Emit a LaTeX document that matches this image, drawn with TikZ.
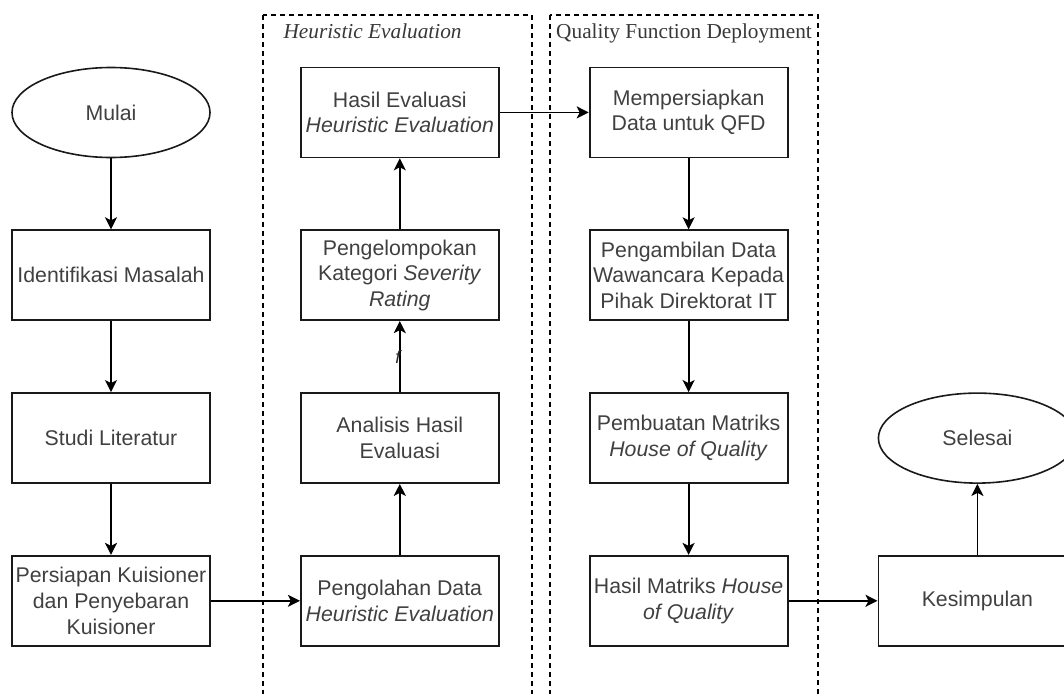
\documentclass[tikz,border=0pt]{standalone}
\usepackage{fontspec}
\setmainfont{Liberation Serif}
\newfontfamily\boxfont{Liberation Sans}
\usetikzlibrary{arrows.meta}
\usetikzlibrary{shapes.geometric}
\usetikzlibrary{positioning}

\begin{document}
\begin{tikzpicture}[x=1pt,y=1pt,
        node distance=71pt and 89pt,
        every node/.style={font=\boxfont\fontsize{21.3}{25.6}\selectfont,text=black!75,align=center},
        proses/.style={draw=black!90,line width=1.8pt,rectangle,minimum width=198pt,minimum height=90pt,inner sep=2pt},
        terminal/.style={draw=black!90,line width=1.6pt,ellipse,minimum width=198pt,minimum height=90pt,inner sep=0pt},
        alur/.style={draw,line width=1.8pt,-{Stealth[length=12pt,width=12pt,inset=3pt]}},
        kelompok/.style={draw,line width=1.3pt,dash pattern=on 5pt off 4pt},
        judul/.style={font=\rmfamily\fontsize{21.3}{25.6}\selectfont,text=black!78},
        fmark/.style={font=\boxfont\fontsize{18}{20}\selectfont\itshape,text=black!85,inner sep=0pt}]

    \useasboundingbox (0,0) rectangle (1064,-693);

    % dashed group frames
    \draw[kelompok] (263,-15) rectangle (532,-720);
    \draw[kelompok] (550,-15) rectangle (818,-720);
    \node[judul,anchor=base west] (judulhe) at (280,-39) {\textit{Heuristic Evaluation}};
    \node[judul,anchor=base] (judulqfd) at (684,-38) {Quality Function Deployment};

    % first column
    \node[terminal] (mulai) at (111,-112.5) {Mulai};
    \node[proses,below=of mulai] (identifikasi) {Identifikasi Masalah};
    \node[proses,below=of identifikasi] (studi) {Studi Literatur};
    \node[proses,below=of studi] (persiapan) {Persiapan Kuisioner\\dan Penyebaran\\Kuisioner};

    % heuristic evaluation
    \node[proses,right=of persiapan] (pengolahan) {Pengolahan Data\\\textit{Heuristic Evaluation}};
    \node[proses,above=of pengolahan] (analisis) {Analisis Hasil\\Evaluasi};
    \node[proses,above=of analisis] (pengelompokan) {Pengelompokan\\Kategori \textit{Severity}\\\textit{Rating}};
    \node[proses,above=of pengelompokan] (hasilhe) {Hasil Evaluasi\\\textit{Heuristic Evaluation}};

    % quality function deployment
    \node[proses,right=of hasilhe] (siapqfd) {Mempersiapkan\\Data untuk QFD};
    \node[proses,below=of siapqfd] (pengambilan) {Pengambilan Data\\Wawancara Kepada\\Pihak Direktorat IT};
    \node[proses,below=of pengambilan] (pembuatan) {Pembuatan Matriks\\\textit{House of Quality}};
    \node[proses,below=of pembuatan] (hasilhoq) {Hasil Matriks \textit{House}\\\textit{of Quality}};

    % last column
    \node[proses,right=of hasilhoq] (kesimpulan) {Kesimpulan};
    \node[terminal,above=of kesimpulan] (selesai) {Selesai};

    \draw[alur] (mulai) -- (identifikasi);
    \draw[alur] (identifikasi) -- (studi);
    \draw[alur] (studi) -- (persiapan);
    \draw[alur] (persiapan) -- (pengolahan);
    \draw[alur] (pengolahan) -- (analisis);
    \draw[alur] (analisis) -- node[fmark,pos=0.49,xshift=-2pt] (tanda) {f} (pengelompokan);
    \draw[alur] (pengelompokan) -- (hasilhe);
    \draw[alur] (hasilhe) -- (siapqfd);
    \draw[alur] (siapqfd) -- (pengambilan);
    \draw[alur] (pengambilan) -- (pembuatan);
    \draw[alur] (pembuatan) -- (hasilhoq);
    \draw[alur] (hasilhoq) -- (kesimpulan);
    \draw[alur] (kesimpulan) -- (selesai);
\end{tikzpicture}
\end{document}
